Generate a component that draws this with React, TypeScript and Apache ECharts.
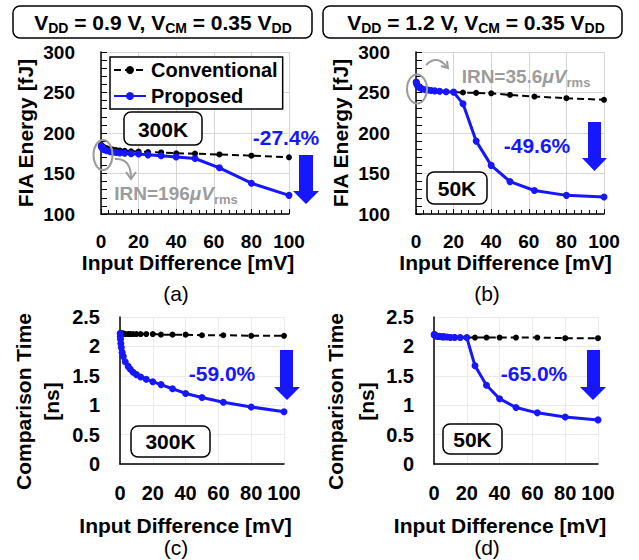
import React, { useEffect, useRef } from "react";
import * as echarts from "echarts";

const inputDiff = [0.1, 0.2, 0.3, 0.5, 0.8, 1.3, 2, 3.2, 5, 6.3, 8, 10, 12.6, 16, 20, 25, 32, 40, 50, 63, 80, 100];
const energyConv300K = [185, 185, 184.5, 184, 183.5, 183, 182, 181, 180, 179.5, 179, 178.5, 178, 177.5, 177, 176.5, 176, 175, 174.5, 173.5, 172, 170];
const energyProp300K = [184, 183.5, 183, 182, 181, 180, 179, 178, 177, 176.5, 176, 175.5, 175, 174.5, 174, 173, 172, 170.5, 168.5, 157, 138, 123];
const energyConv50K = [263, 262, 261, 260, 258.5, 257, 256, 254.5, 253.5, 253, 252.5, 252, 251.5, 251, 250.5, 250, 249.5, 249, 247, 245, 243, 241];
const energyProp50K = [263, 262, 261, 260, 258.5, 257, 256, 254.5, 253.5, 253, 252.5, 252, 251.5, 251, 250.5, 236, 190, 160, 140, 129, 123, 121];
const timeConv300K = [2.22, 2.22, 2.22, 2.22, 2.22, 2.22, 2.22, 2.21, 2.21, 2.21, 2.21, 2.21, 2.21, 2.21, 2.21, 2.2, 2.2, 2.2, 2.19, 2.19, 2.18, 2.18];
const timeProp300K = [2.22, 2.17, 2.12, 2.05, 1.98, 1.9, 1.83, 1.74, 1.66, 1.61, 1.56, 1.52, 1.48, 1.44, 1.4, 1.35, 1.28, 1.2, 1.13, 1.05, 0.97, 0.89];
const timeConv50K = [2.19, 2.19, 2.19, 2.18, 2.18, 2.18, 2.18, 2.17, 2.17, 2.17, 2.16, 2.16, 2.16, 2.15, 2.15, 2.15, 2.15, 2.15, 2.15, 2.15, 2.14, 2.14];
const timeProp50K = [2.2, 2.2, 2.19, 2.19, 2.18, 2.18, 2.17, 2.17, 2.16, 2.16, 2.16, 2.15, 2.15, 2.15, 2.15, 1.67, 1.34, 1.11, 0.96, 0.87, 0.8, 0.75];

const seriesNames = ["Conventional", "Proposed"];
const panelTitles = ["V{s|DD} = 0.9 V, V{s|CM} = 0.35 V{s|DD}", "V{s|DD} = 1.2 V, V{s|CM} = 0.35 V{s|DD}"];
const panelLabels = ["(a)", "(b)", "(c)", "(d)"];
const tempLabels = ["300K", "50K", "300K", "50K"];
const reductions = ["-27.4%", "-49.6%", "-59.0%", "-65.0%"];
const irnLabels = ["IRN=196{mu|μV}{rms|rms}", "IRN=35.6{mu|μV}{rms|rms}"];
const xName = "Input Difference [mV]";
const energyName = "FIA Energy [fJ]";
const timeName = "Comparison Time\n[ns]";

const FONT = '"Liberation Sans", Arial, Helvetica, sans-serif';
const BLUE = "#1616ff";
const GRAY = "#9c9c9c";

const pair = (ys: number[]) => inputDiff.map((x, i) => [x, ys[i]]);

function makeXAxis(gi: number, energy: boolean, namePadRight: number) {
  return {
    type: "value",
    gridIndex: gi,
    min: 0,
    max: 100,
    interval: 20,
    axisLine: { show: true, onZero: false, lineStyle: { color: "#000", width: 1.5 } },
    axisTick: { show: energy, inside: true, length: 5, lineStyle: { color: "#000", width: 1 } },
    minorTick: { show: energy, splitNumber: 5, length: 4, lineStyle: { color: "#000", width: 1 } },
    splitLine: { show: true, lineStyle: { color: energy ? "#d6d6d6" : "#ebebeb", width: 1 } },
    axisLabel: {
      fontSize: energy ? 19 : 20,
      fontWeight: "bold",
      color: "#000",
      fontFamily: FONT,
      margin: energy ? 18 : 19,
    },
    name: xName,
    nameLocation: "middle",
    nameGap: energy ? 36 : 51,
    nameTextStyle: {
      fontSize: 21,
      fontWeight: "bold",
      color: "#000",
      fontFamily: FONT,
      padding: [0, namePadRight, 0, 0],
    },
  };
}

function makeEnergyYAxis(gi: number) {
  return {
    type: "value",
    gridIndex: gi,
    min: 100,
    max: 300,
    interval: 50,
    axisLine: { show: true, lineStyle: { color: "#000", width: 1.5 } },
    axisTick: { show: true, inside: true, length: 6, lineStyle: { color: "#000", width: 1 } },
    minorTick: { show: true, splitNumber: 5, length: 6, lineStyle: { color: "#000", width: 1 } },
    splitLine: { show: true, lineStyle: { color: "#d6d6d6", width: 1 } },
    axisLabel: { fontSize: 19, fontWeight: "bold", color: "#000", fontFamily: FONT, margin: 26 },
    name: energyName,
    nameLocation: "middle",
    nameGap: 65,
    nameTextStyle: { fontSize: 21, fontWeight: "bold", color: "#000", fontFamily: FONT },
  };
}

function makeTimeYAxis(gi: number, gap: number, lh: number) {
  return {
    type: "value",
    gridIndex: gi,
    min: 0,
    max: 2.5,
    interval: 0.5,
    axisLine: { show: true, lineStyle: { color: "#000", width: 1.5 } },
    axisTick: { show: false },
    splitLine: { show: true, lineStyle: { color: "#ebebeb", width: 1 } },
    axisLabel: { fontSize: 20, fontWeight: "bold", color: "#000", fontFamily: FONT, margin: 20 },
    name: timeName,
    nameLocation: "middle",
    nameGap: gap,
    nameTextStyle: {
      fontSize: 21,
      fontWeight: "bold",
      color: "#000",
      fontFamily: FONT,
      lineHeight: lh,
      padding: [0, 22, 0, 0],
    },
  };
}

function makeSeries(gi: number, conv: number[], prop: number[]) {
  return [
    {
      name: seriesNames[0],
      type: "line",
      xAxisIndex: gi,
      yAxisIndex: gi,
      data: pair(conv),
      symbol: "circle",
      symbolSize: 6,
      lineStyle: { color: "#000", width: 2, type: [7, 4] },
      itemStyle: { color: "#000" },
      z: 2,
    },
    {
      name: seriesNames[1],
      type: "line",
      xAxisIndex: gi,
      yAxisIndex: gi,
      data: pair(prop),
      symbol: "circle",
      symbolSize: 7,
      lineStyle: { color: BLUE, width: 3 },
      itemStyle: { color: BLUE },
      z: 3,
    },
  ];
}

function roundBox(x: number, y: number, w: number, h: number) {
  return {
    type: "rect",
    shape: { x, y, width: w, height: h, r: 7 },
    style: { fill: "#fff", stroke: "#000", lineWidth: 1.5 },
    z: 20,
  };
}

function boldText(text: string, x: number, y: number, size: number, color: string) {
  return {
    type: "text",
    x,
    y,
    z: 21,
    style: {
      text,
      fontSize: size,
      fontWeight: "bold",
      fontFamily: FONT,
      fill: color,
      align: "center",
      verticalAlign: "middle",
    },
  };
}

function arrow(x0: number, x1: number, hx0: number, hx1: number, top: number, headTop: number, tip: number) {
  return {
    type: "polygon",
    z: 20,
    shape: {
      points: [
        [x0, top],
        [x1, top],
        [x1, headTop],
        [hx1, headTop],
        [(hx0 + hx1) / 2, tip],
        [hx0, headTop],
        [x0, headTop],
      ],
    },
    style: { fill: BLUE },
  };
}

function titleText(text: string, x: number, y: number) {
  return {
    type: "text",
    x,
    y,
    z: 21,
    style: {
      text,
      fontSize: 21,
      fontWeight: "bold",
      fontFamily: FONT,
      fill: "#000",
      align: "center",
      verticalAlign: "middle",
      rich: {
        s: { fontSize: 14, fontWeight: "bold", fontFamily: FONT, fill: "#000", padding: [12, 0, 0, 0] },
      },
    },
  };
}

function irnText(text: string, x: number, y: number) {
  return {
    type: "text",
    x,
    y,
    z: 21,
    style: {
      text,
      fontSize: 19,
      fontWeight: "bold",
      fontFamily: FONT,
      fill: GRAY,
      align: "center",
      verticalAlign: "middle",
      rich: {
        mu: { fontSize: 19, fontWeight: "bold", fontStyle: "italic", fontFamily: FONT, fill: GRAY },
        rms: { fontSize: 13, fontWeight: "bold", fontFamily: FONT, fill: GRAY, padding: [12, 0, 0, 0] },
      },
    },
  };
}

function plainText(text: string, x: number, y: number) {
  return {
    type: "text",
    x,
    y,
    z: 21,
    style: { text, fontSize: 21, fontFamily: FONT, fill: "#000", align: "center", verticalAlign: "middle" },
  };
}

export default function App() {
  const ref = useRef<HTMLDivElement>(null);

  useEffect(() => {
    if (!ref.current) return;
    const chart = echarts.init(ref.current, null, { renderer: "svg" });

    const graphic: any[] = [
      roundBox(13, 6, 299, 32),
      titleText(panelTitles[0], 163, 22),
      roundBox(323, 6, 299, 32),
      titleText(panelTitles[1], 476, 22),

      roundBox(124, 112, 78, 33),
      boldText(tempLabels[0], 163, 129, 21, "#000"),
      roundBox(427, 172, 60, 32),
      boldText(tempLabels[1], 457, 188, 21, "#000"),
      roundBox(131, 426, 79, 31),
      boldText(tempLabels[2], 170.5, 441.5, 21, "#000"),
      roundBox(443, 424, 59, 30),
      boldText(tempLabels[3], 472.5, 439, 21, "#000"),

      boldText(reductions[0], 286, 137, 21, BLUE),
      boldText(reductions[1], 537, 145, 21, BLUE),
      boldText(reductions[2], 222, 373, 21, BLUE),
      boldText(reductions[3], 534, 373.5, 21, BLUE),

      arrow(299, 313, 293, 319, 155, 191, 204),
      arrow(588, 601, 582, 607, 122, 158, 171),
      arrow(280, 293, 274, 300, 350, 387, 400),
      arrow(587, 600, 580, 606, 350, 387, 400),

      {
        type: "ellipse",
        z: 22,
        shape: { cx: 103, cy: 155, rx: 9.5, ry: 15 },
        style: { fill: "none", stroke: GRAY, lineWidth: 2 },
      },
      {
        type: "ellipse",
        z: 22,
        shape: { cx: 417, cy: 89, rx: 10, ry: 14.5 },
        style: { fill: "none", stroke: GRAY, lineWidth: 2 },
      },
      {
        type: "bezierCurve",
        z: 22,
        shape: { x1: 115, y1: 159, cpx1: 131, cpy1: 158, x2: 131, y2: 178 },
        style: { fill: "none", stroke: GRAY, lineWidth: 2 },
      },
      {
        type: "polyline",
        z: 22,
        shape: { points: [[126, 172], [131, 179], [136, 172]] },
        style: { fill: "none", stroke: GRAY, lineWidth: 2 },
      },
      {
        type: "bezierCurve",
        z: 22,
        shape: { x1: 426, y1: 65, cpx1: 437, cpy1: 54, x2: 447, y2: 67 },
        style: { fill: "none", stroke: GRAY, lineWidth: 2 },
      },
      {
        type: "polyline",
        z: 22,
        shape: { points: [[441, 66], [448, 68], [447, 61]] },
        style: { fill: "none", stroke: GRAY, lineWidth: 2 },
      },
      irnText(irnLabels[0], 176, 193),
      irnText(irnLabels[1], 526, 76),

      plainText(panelLabels[0], 176, 293),
      plainText(panelLabels[1], 487, 293),
      plainText(panelLabels[2], 176, 547),
      plainText(panelLabels[3], 487, 547),
    ];

    const option: any = {
      animation: false,
      backgroundColor: "#fff",
      textStyle: { fontFamily: FONT },
      grid: [
        { left: 101, top: 52, width: 188, height: 162 },
        { left: 416, top: 52, width: 188, height: 162 },
        { left: 120, top: 317, width: 164, height: 147 },
        { left: 434, top: 317, width: 164, height: 147 },
      ],
      xAxis: [
        makeXAxis(0, true, 14),
        makeXAxis(1, true, 9),
        makeXAxis(2, false, 33),
        makeXAxis(3, false, 32),
      ],
      yAxis: [makeEnergyYAxis(0), makeEnergyYAxis(1), makeTimeYAxis(2, 55, 28), makeTimeYAxis(3, 50, 31)],
      legend: {
        left: 110,
        top: 57,
        orient: "vertical",
        data: seriesNames,
        backgroundColor: "#fff",
        borderColor: "#000",
        borderWidth: 1.5,
        padding: [3, 5, 3, 3],
        itemGap: 6,
        itemWidth: 32,
        itemHeight: 10,
        selectedMode: false,
        textStyle: { fontSize: 20, fontWeight: "bold", color: "#000", fontFamily: FONT },
        z: 10,
      },
      series: [
        ...makeSeries(0, energyConv300K, energyProp300K),
        ...makeSeries(1, energyConv50K, energyProp50K),
        ...makeSeries(2, timeConv300K, timeProp300K),
        ...makeSeries(3, timeConv50K, timeProp50K),
      ],
      graphic,
    };

    chart.setOption(option);
    return () => {
      chart.dispose();
    };
  }, []);

  return (
    <div
      ref={ref}
      style={{ position: "fixed", left: 0, top: 0, width: 639, height: 560, background: "#fff" }}
    />
  );
}
